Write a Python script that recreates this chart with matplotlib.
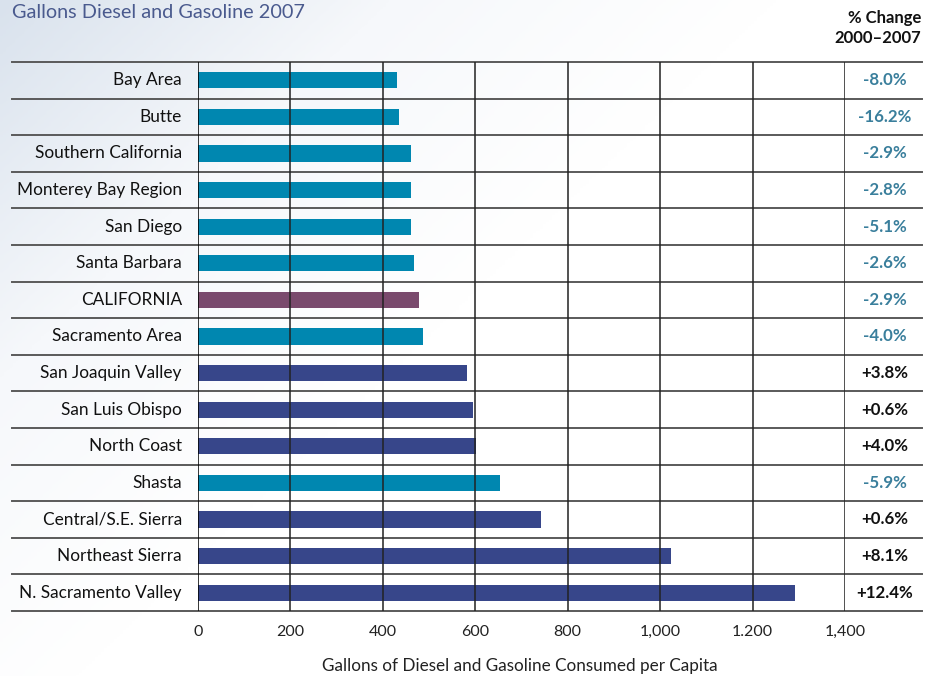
import numpy as np
import matplotlib.pyplot as plt
from matplotlib.colors import LinearSegmentedColormap
import matplotlib.transforms as mtransforms

plt.rcParams['font.family'] = ['Lato', 'DejaVu Sans']

regions = ["Bay Area", "Butte", "Southern California", "Monterey Bay Region",
           "San Diego", "Santa Barbara", "CALIFORNIA", "Sacramento Area",
           "San Joaquin Valley", "San Luis Obispo", "North Coast", "Shasta",
           "Central/S.E. Sierra", "Northeast Sierra", "N. Sacramento Valley"]
gallons = [430, 435, 460, 460, 460, 468, 478, 486, 583, 596, 601, 654,
           742, 1023, 1291]
pct_change = ["-8.0%", "-16.2%", "-2.9%", "-2.8%", "-5.1%", "-2.6%", "-2.9%",
              "-4.0%", "+3.8%", "+0.6%", "+4.0%", "-5.9%", "+0.6%", "+8.1%",
              "+12.4%"]
tick_vals = [0, 200, 400, 600, 800, 1000, 1200, 1400]
tick_labels = ["0", "200", "400", "600", "800", "1,000", "1.200", "1,400"]

TEAL = "#0087b0"
NAVY = "#37468a"
PLUM = "#7a4a6d"
TEAL_TXT = "#3a7f9c"


def bar_color(name, pct):
    if name == "CALIFORNIA":
        return PLUM
    return TEAL if pct.startswith("-") else NAVY


fig = plt.figure(figsize=(9.33, 6.76), dpi=100)

# soft diagonal background
bg = fig.add_axes([0, 0, 1, 1], zorder=-10)
xx, yy = np.meshgrid(np.linspace(0, 1, 300), np.linspace(0, 1, 300))
grad = np.clip(1 - (xx * 1.2 + yy * 0.9) / 1.0, 0, 1)
cmap = LinearSegmentedColormap.from_list("bg", ["#ffffff", "#f6f8fb", "#d9e2ed"])
bg.imshow(grad, cmap=cmap, extent=[0, 1, 0, 1], aspect="auto", origin="upper")
bg.axis("off")

ax = fig.add_axes([198 / 933, 1 - 611 / 676, 647 / 933, 549 / 676])
ax.patch.set_alpha(0)
y = np.arange(len(regions))
colors = [bar_color(r, p) for r, p in zip(regions, pct_change)]
ax.barh(y, gallons, height=0.44, color=colors, zorder=2)

ax.set_xlim(0, 1400)
ax.set_ylim(len(regions) - 0.5, -0.5)

# vertical grid
for v in tick_vals:
    ax.axvline(v, color="#222222" if v else "#000000", lw=1.1, zorder=3)

# row separators spanning the label and % columns
trans = mtransforms.blended_transform_factory(ax.transAxes, ax.transData)
for b in np.arange(-0.5, len(regions) + 0.5, 1):
    ax.plot([-0.2875, 1.119], [b, b], transform=trans, color="#5a5a5a",
            lw=1.4, clip_on=False, zorder=1)

for i, (name, pct, c) in enumerate(zip(regions, pct_change, colors)):
    ax.text(-0.025, i, name, transform=trans, ha="right", va="center",
            fontsize=12.4, color="#111111")
    ax.text(1.061, i, pct, transform=trans, ha="center", va="center",
            fontsize=12.2, fontweight="bold",
            color="#111111" if c == NAVY else TEAL_TXT)

ax.set_yticks([])
ax.set_xticks(tick_vals)
ax.set_xticklabels(tick_labels, fontsize=11.5, color="#222222")
ax.tick_params(axis="x", length=0, pad=10)
for s in ax.spines.values():
    s.set_visible(False)

fig.text(0.5575, 1 - 666 / 676, "Gallons of Diesel and Gasoline Consumed per Capita",
         ha="center", va="center", fontsize=12.3, color="#222222")
fig.text(12 / 933, 1 - 13 / 676, "Gallons Diesel and Gasoline 2007",
         ha="left", va="center", fontsize=14.3, color="#4a5a8e")
fig.text(921 / 933, 1 - 28 / 676, "% Change\n2000\u20132007", ha="right",
         va="center", fontsize=12, fontweight="bold", color="#111111",
         linespacing=1.25)

fig.savefig("out.png", dpi=100)
